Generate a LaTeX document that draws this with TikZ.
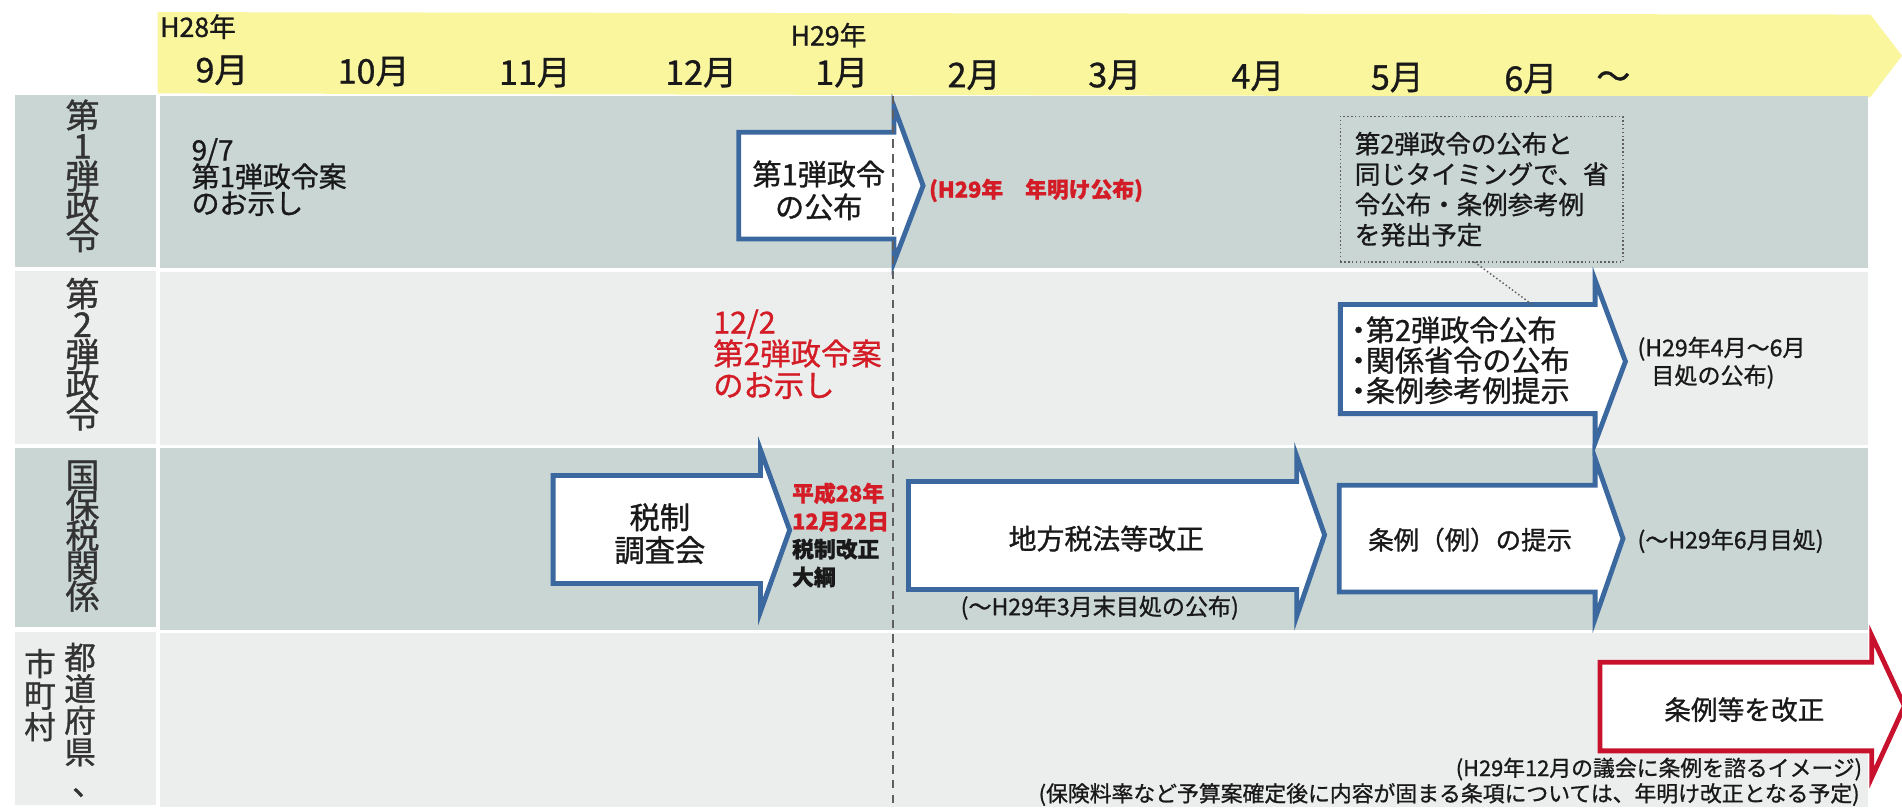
\documentclass[tikz,border=0pt]{standalone}
\usepackage{fontspec}
\setmainfont{Noto Sans CJK JP}[FakeBold=1.0]
\definecolor{hdr}{RGB}{250,246,158}
\definecolor{rowA}{RGB}{202,214,212}
\definecolor{rowB}{RGB}{236,238,237}
\definecolor{arrblue}{RGB}{60,104,160}
\definecolor{arrred}{RGB}{200,18,45}
\definecolor{txtred}{RGB}{212,28,38}
\definecolor{txt}{RGB}{25,25,25}
\definecolor{dashc}{RGB}{95,95,95}
\newcommand{\fs}[2]{\fontsize{#1}{#2}\selectfont\lineskiplimit=-20pt\relax}
\newcommand{\blockarrow}[9]{%
  \filldraw[blockarr,draw=#1] (#2,#3) -- (#4,#3) -- (#4,#6) -- (#8,#9) -- (#4,#7) -- (#4,#5) -- (#2,#5) -- cycle;}
\newcommand{\hdot}{\makebox[0.5em][c]{・}}
\tikzset{
  blockarr/.style={fill=white,line width=2pt,line join=miter},
  month/.style={font=\fs{14}{14}},
  yearlbl/.style={font=\fs{11}{11}},
  rowlbl/.style={font=\fs{14}{12.5},align=center,text=black!80},
  body/.style={font=\fs{11.5}{11},align=left},
  boxtxt/.style={font=\fs{12}{13.5},align=center},
  small/.style={font=\fs{9.5}{11.5},align=left},
}
\begin{document}
\begin{tikzpicture}[x=0.5pt,y=-0.5pt,every node/.style={inner sep=0pt,outer sep=0pt,text=txt}]
\useasboundingbox (0,0) rectangle (1568,668);
\fill[white] (0,0) rectangle (1568,668);
% header band
\fill[hdr] (130,10) -- (1542,12) -- (1568,46) -- (1542,80) -- (130,77) -- cycle;
% rows
\fill[rowA] (12,78) rectangle (129,220);  \fill[rowA] (132,79) rectangle (1540,221);
\fill[rowB] (12,223) rectangle (129,366); \fill[rowB] (132,224) rectangle (1540,367);
\fill[rowA] (12,369) rectangle (129,517); \fill[rowA] (132,369) rectangle (1540,519);
\fill[rowB] (12,521) rectangle (129,664); \fill[rowB] (132,522) rectangle (1540,665);

% header labels
\node[yearlbl,anchor=west] (h28) at (132,22) {H28年};
\node[yearlbl] (h29) at (683,29) {H29年};
\node[month] (m9) at (183,58) {9月};
\node[month] (m10) at (308,59) {10月};
\node[month] (m11) at (441,60) {11月};
\node[month] (m12) at (578,60) {12月};
\node[month] (m1) at (694,60) {1月};
\node[month] (m2) at (803,62) {2月};
\node[month] (m3) at (919,62) {3月};
\node[month] (m4) at (1037,63) {4月};
\node[month] (m5) at (1152,64) {5月};
\node[month] (m6) at (1262,65) {6月};
\node[month] (tilde) at (1330,66) {～};

% row labels
\node[rowlbl] (l1) at (68,145) {第\\1\\弾\\政\\令};
\node[rowlbl] (l2) at (68,292) {第\\2\\弾\\政\\令};
\node[rowlbl] (l3) at (68,442) {国\\保\\税\\関\\係};
\node[rowlbl,font=\fs{13}{13},anchor=north] (l4a) at (66,530) {都\\道\\府\\県\\\hspace*{0.5em}、};
\node[rowlbl,font=\fs{13}{13},anchor=north] (l4b) at (33,535) {市\\町\\村};

% block arrows
\blockarrow{arrblue}{609}{109}{737}{197}{88}{216}{761}{153}
\blockarrow{arrblue}{1105}{251}{1315}{341}{231}{365}{1340}{298}
\blockarrow{arrblue}{456}{392}{627}{481}{371}{504}{651}{437}
\blockarrow{arrblue}{749}{397}{1069}{486}{376}{508}{1092}{441}
\blockarrow{arrblue}{1104}{400}{1315}{488}{378}{510}{1338}{444}
\begin{scope}
\clip (0,0) rectangle (1568,668);
\blockarrow{arrred}{1319}{546}{1543}{619}{524}{641}{1570}{582}
\end{scope}

% dashed year line
\draw[dashc,line width=0.8pt,dash pattern=on 3.5pt off 2.5pt] (736,79) -- (736,666);

% row 1
\node[body,anchor=west] (r1a) at (158,146) {9/7\\第1弾政令案\\のお示し};
\node[boxtxt] (a1t) at (675,157) {第1弾政令\\の公布};
\node[font=\fs{9}{10}\bfseries,text=txtred,anchor=west] (r1b) at (766,157) {(H29年　年明け公布)};
\node[draw=dashc,densely dotted,line width=0.6pt,align=left,font=\fs{10.5}{12.5},
      minimum width=116.5pt,minimum height=60pt] (note) at (1221.5,156)
      {第2弾政令の公布と\\同じタイミングで、省\\令公布・条例参考例\\を発出予定};
\coordinate (a2top) at (1263,251);
\draw[dashc,densely dotted,line width=0.6pt] ([xshift=-3pt]note.south) -- (a2top);

% row 2
\node[font=\fs{12.5}{13},align=left,text=txtred,anchor=west] (r2a) at (588,292) {12/2\\第2弾政令案\\のお示し};
\node[font=\fs{12}{12.5},align=left,anchor=west] (a2t) at (1114,297) {\hdot 第2弾政令公布\\\hdot 関係省令の公布\\\hdot 条例参考例提示};
\node[small,anchor=west] (r2b) at (1350,299) {(H29年4月～6月\\\hspace{0.6em}目処の公布)};

% row 3
\node[font=\fs{12.5}{13.5},align=center] (a3t) at (544,440) {税制\\調査会};
\node[font=\fs{9}{11.5}\bfseries,align=left,anchor=west] (r3a) at (653,441)
  {\textcolor{txtred}{平成28年}\\\textcolor{txtred}{12月22日}\\税制改正\\大綱};
\node[font=\fs{11.5}{12}] (a4t) at (912,444) {地方税法等改正};
\node[small,anchor=west] (r3b) at (792,501) {(～H29年3月末目処の公布)};
\node[font=\fs{10.5}{12}] (a5t) at (1212,445) {条例（例）の提示};
\node[small,anchor=west] (r3c) at (1350,446) {(～H29年6月目処)};

% row 4
\node[font=\fs{11}{12}] (a6t) at (1438,585) {条例等を改正};
\node[font=\fs{9}{10},anchor=east] (r4a) at (1535,634) {(H29年12月の議会に条例を諮るイメージ)};
\node[font=\fs{9}{10},anchor=east] (r4b) at (1533,655) {(保険料率など予算案確定後に内容が固まる条項については、年明け改正となる予定)};
\end{tikzpicture}
\end{document}
